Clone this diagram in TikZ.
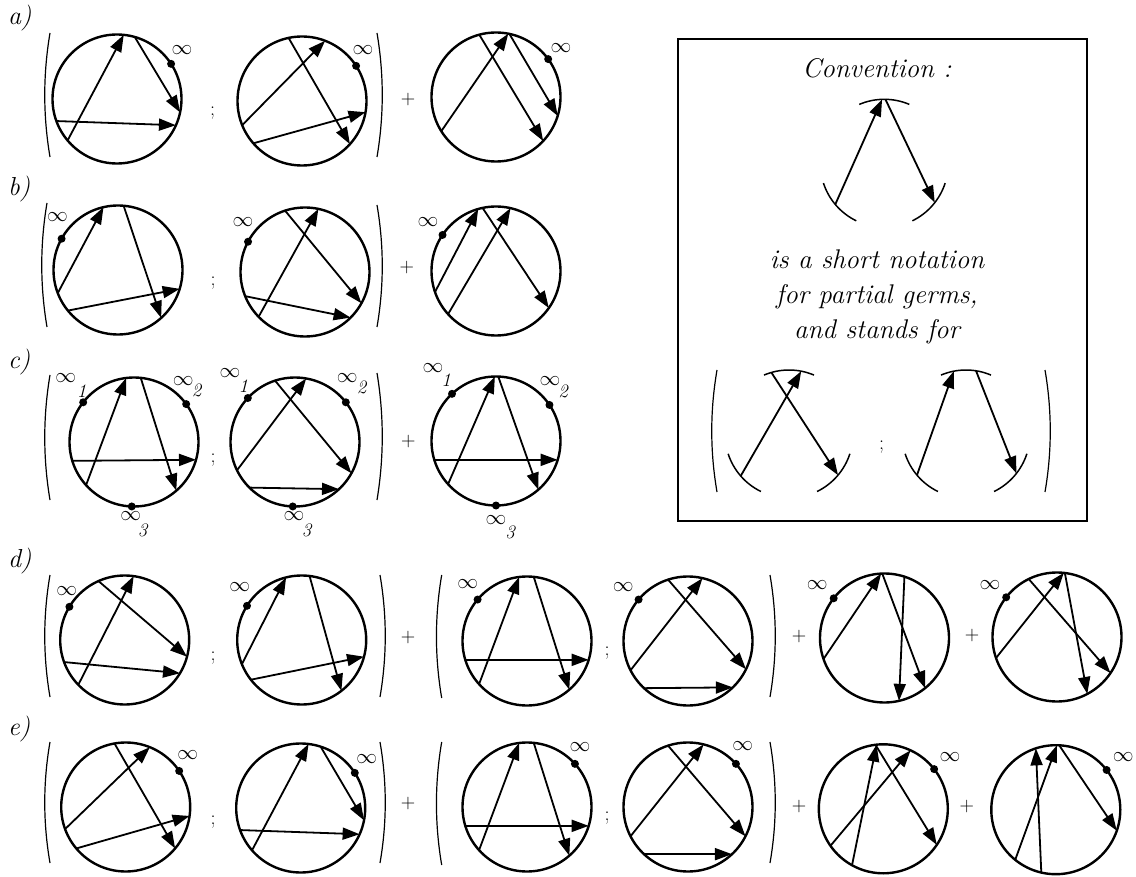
\documentclass[tikz,border=0pt]{standalone}
\usepackage{tikz}
\usetikzlibrary{arrows.meta,calc}

% thin big parentheses: x, top y, bottom y
\newcommand{\openpar}[3]{\draw[paren] (#1,#2) .. controls ({#1-7},{#2+(#3-#2)/3}) and ({#1-7},{#2+2*(#3-#2)/3}) .. (#1,#3);}
\newcommand{\closepar}[3]{\draw[paren] (#1,#2) .. controls ({#1+7},{#2+(#3-#2)/3}) and ({#1+7},{#2+2*(#3-#2)/3}) .. (#1,#3);}

\begin{document}
\begin{tikzpicture}[
  x=1pt, y=-1pt,
  germ/.style={circle, draw, line width=2.4pt, minimum size=129pt, inner sep=0pt, outer sep=0pt},
  ghost/.style={circle, minimum size=128pt, inner sep=0pt, outer sep=0pt},
  chd/.style={line width=1.8pt, -{Triangle[length=17pt,width=12pt]}},
  rim/.style={line width=1.5pt},
  paren/.style={line width=1.2pt},
  dotp/.style={circle, fill, inner sep=0pt, minimum size=8pt},
  inf/.style={font=\fontsize{21}{21}\selectfont, inner sep=0pt},
  sub/.style={font=\fontsize{19}{19}\selectfont\itshape, inner sep=0pt},
  op/.style={font=\fontsize{20}{20}\selectfont, inner sep=0pt},
  tag/.style={font=\fontsize{26}{26}\selectfont\itshape, anchor=west, inner sep=0pt},
  txt/.style={font=\fontsize{27}{35}\selectfont\itshape, align=center, inner sep=0pt}
]
\useasboundingbox (0,0) rectangle (1136,877);

% ---- row a
\node[tag] (ta) at (8,18) {a)};
\openpar{50}{33}{157}
\node[germ] (a1) at (117,99) {};
\foreach \s/\e in {220/84,74/348,200/336} \draw[chd] (a1.\s) -- (a1.\e);
\node[dotp] (a1i) at (a1.33) {};
\node[inf] (a1l) at (182,50) {$\infty$};
\node[op] (a1s) at (212.5,113) {;};
\node[germ] (a2) at (302,101) {};
\foreach \s/\e in {202/69,102/318,221/350} \draw[chd] (a2.\s) -- (a2.\e);
\node[dotp] (a2i) at (a2.33) {};
\node[inf] (a2l) at (363,50) {$\infty$};
\closepar{377}{33}{157}
\node[op] (ap) at (408,100) {+};
\node[germ] (a3) at (496,97) {};
\foreach \s/\e in {212/79,105/317,78/343} \draw[chd] (a3.\s) -- (a3.\e);
\node[dotp] (a3i) at (a3.36) {};
\node[inf] (a3l) at (561,48) {$\infty$};

% ---- row b
\node[tag] (tb) at (8,189) {b)};
\openpar{47}{203}{327}
\node[germ] (b1) at (118,270) {};
\foreach \s/\e in {201/103,85/312,219/343} \draw[chd] (b1.\s) -- (b1.\e);
\node[dotp] (b1i) at (b1.151) {};
\node[inf] (b1l) at (57.5,217.5) {$\infty$};
\node[op] (b1s) at (213,283) {;};
\node[germ] (b2) at (305,272) {};
\foreach \s/\e in {224/78,108/331,202/315} \draw[chd] (b2.\s) -- (b2.\e);
\node[dotp] (b2i) at (b2.152) {};
\node[inf] (b2l) at (243,221.7) {$\infty$};
\closepar{377}{205}{327}
\node[op] (bp) at (406.7,268) {+};
\node[germ] (b3) at (496,271) {};
\foreach \s/\e in {199/106,222/77,102/325} \draw[chd] (b3.\s) -- (b3.\e);
\node[dotp] (b3i) at (b3.146) {};
\node[inf] (b3l) at (428,222) {$\infty$};

% ---- row c
\node[tag] (tc) at (8,362) {c)};
\openpar{50}{375}{500}
\node[germ] (c1) at (134,442) {};
\foreach \s/\e in {222/97,84/311,197/344} \draw[chd] (c1.\s) -- (c1.\e);
\foreach \a/\k in {142/1,36/2,268/3} \node[dotp] (c1i\k) at (c1.\a) {};
\node[inf] (c1l1) at (65.7,378.3) {$\infty$};
\node[sub] (c1n1) at (81.7,390.7) {1};
\node[inf] (c1l2) at (183.3,380.7) {$\infty$};
\node[sub] (c1n2) at (196.7,390.7) {2};
\node[inf] (c1l3) at (130.7,515.7) {$\infty$};
\node[sub] (c1n3) at (142.7,530) {3};
\node[op] (c1s) at (213,460) {;};
\node[germ] (c2) at (295,442) {};
\foreach \s/\e in {206/80,108/331,225/313} \draw[chd] (c2.\s) -- (c2.\e);
\foreach \a/\k in {137/1,38/2,268/3} \node[dotp] (c2i\k) at (c2.\a) {};
\node[inf] (c2l1) at (230,373.3) {$\infty$};
\node[sub] (c2n1) at (243.3,385.7) {1};
\node[inf] (c2l2) at (347.3,378.3) {$\infty$};
\node[sub] (c2n2) at (361.7,387.3) {2};
\node[inf] (c2l3) at (294,515.7) {$\infty$};
\node[sub] (c2n3) at (306.7,530.7) {3};
\closepar{377}{373}{500}
\node[op] (cp) at (408.3,441.7) {+};
\node[germ] (c3) at (496,441) {};
\foreach \s/\e in {222/91,88/311,197/343} \draw[chd] (c3.\s) -- (c3.\e);
\foreach \a/\k in {133/1,34/2,270/3} \node[dotp] (c3i\k) at (c3.\a) {};
\node[inf] (c3l1) at (433,368.5) {$\infty$};
\node[sub] (c3n1) at (446,380.5) {1};
\node[inf] (c3l2) at (550,381) {$\infty$};
\node[sub] (c3n2) at (563,391.5) {2};
\node[inf] (c3l3) at (496,520) {$\infty$};
\node[sub] (c3n3) at (510,532) {3};

% ---- convention box
\draw[line width=2pt] (678,39) rectangle (1087,521);
\node[txt] (conv) at (877,68) {Convention :};
\node[ghost] (cv) at (884.3,163.3) {};
\node[txt] (note) at (877,297) {is a short notation\\for partial germs,\\and stands for};
\openpar{717}{370}{492}
\node[ghost] (cl) at (789,434) {};
\node[op] (cvs) at (881.7,446.7) {;};
\node[ghost] (cr) at (966,434) {};
\closepar{1045}{370}{492}
\foreach \g in {cv,cl,cr}
  \foreach \a/\b in {67/113,198/244,296/342}
    \draw[rim] (\g.\a) arc[start angle=\a, end angle=\b, radius=64pt];
\foreach \s/\e in {220/92,89/322} \draw[chd] (cv.\s) -- (cv.\e);
\foreach \s/\e in {221/79,106/320} \draw[chd] (cl.\s) -- (cl.\e);
\foreach \s/\e in {220/101,81/322} \draw[chd] (cr.\s) -- (cr.\e);

% ---- row d
\node[tag] (td) at (8,561) {d)};
\openpar{50}{575}{697}
\node[germ] (d1) at (124.7,640) {};
\foreach \s/\e in {114/345,224/82,200/329} \draw[chd] (d1.\s) -- (d1.\e);
\node[dotp] (d1i) at (d1.149) {};
\node[inf] (d1l) at (66.7,590.7) {$\infty$};
\node[op] (d1s) at (213,658) {;};
\node[germ] (d2) at (301.7,640) {};
\foreach \s/\e in {202/104,83/308,218/345} \draw[chd] (d2.\s) -- (d2.\e);
\node[dotp] (d2i) at (d2.148) {};
\node[inf] (d2l) at (239.7,587.3) {$\infty$};
\closepar{380}{575}{697}
\node[op] (dp1) at (408,638) {+};
\openpar{441.7}{575}{698}
\node[germ] (d3) at (527,641) {};
\foreach \s/\e in {222/97,84/311,197/343} \draw[chd] (d3.\s) -- (d3.\e);
\node[dotp] (d3i) at (d3.140) {};
\node[inf] (d3l) at (467.7,583.7) {$\infty$};
\node[op] (d2s) at (607,653) {;};
\node[germ] (d4) at (688,641) {};
\foreach \s/\e in {207/77,108/334,227/314} \draw[chd] (d4.\s) -- (d4.\e);
\node[dotp] (d4i) at (d4.140) {};
\node[inf] (d4l) at (623.3,587.3) {$\infty$};
\closepar{770}{575}{697}
\node[op] (dp2) at (799,637) {+};
\node[germ] (d5) at (884.5,638) {};
\foreach \s/\e in {199/93,92/309,72/283} \draw[chd] (d5.\s) -- (d5.\e);
\node[dotp] (d5i) at (d5.142) {};
\node[inf] (d5l) at (817.3,585) {$\infty$};
\node[op] (dp3) at (972,636) {+};
\node[germ] (d6) at (1057,637) {};
\foreach \s/\e in {199/84,116/326,83/298} \draw[chd] (d6.\s) -- (d6.\e);
\node[dotp] (d6i) at (d6.142) {};
\node[inf] (d6l) at (990,585) {$\infty$};

% ---- row e
\node[tag] (te) at (8,729) {e)};
\openpar{50}{742}{863}
\node[germ] (e1) at (125.7,807) {};
\foreach \s/\e in {200/68,100/320,220/352} \draw[chd] (e1.\s) -- (e1.\e);
\node[dotp] (e1i) at (e1.34) {};
\node[inf] (e1l) at (187.7,755) {$\infty$};
\node[op] (e1s) at (213,822) {;};
\node[germ] (e2) at (300.7,808) {};
\foreach \s/\e in {221/83,72/349,200/336} \draw[chd] (e2.\s) -- (e2.\e);
\node[dotp] (e2i) at (e2.33) {};
\node[inf] (e2l) at (366.7,759) {$\infty$};
\closepar{380}{742}{863}
\node[op] (ep1) at (408,804) {+};
\openpar{441.7}{742}{865}
\node[germ] (e3) at (527,807) {};
\foreach \s/\e in {222/97,84/311,197/343} \draw[chd] (e3.\s) -- (e3.\e);
\node[dotp] (e3i) at (e3.42) {};
\node[inf] (e3l) at (580,746.7) {$\infty$};
\node[op] (e2s) at (607,818) {;};
\node[germ] (e4) at (688,807) {};
\foreach \s/\e in {207/76,108/333,227/313} \draw[chd] (e4.\s) -- (e4.\e);
\node[dotp] (e4i) at (e4.42) {};
\node[inf] (e4l) at (742.7,745.7) {$\infty$};
\closepar{770}{742}{863}
\node[op] (ep2) at (799,807) {+};
\node[germ] (e5) at (883.3,808.8) {};
\foreach \s/\e in {241/96,215/65,97/326} \draw[chd] (e5.\s) -- (e5.\e);
\node[dotp] (e5i) at (e5.38) {};
\node[inf] (e5l) at (950,757.3) {$\infty$};
\node[op] (ep3) at (966.7,807) {+};
\node[germ] (e6) at (1055.8,809.7) {};
\foreach \s/\e in {257/108,231/89,87/341} \draw[chd] (e6.\s) -- (e6.\e);
\node[dotp] (e6i) at (e6.38) {};
\node[inf] (e6l) at (1123.3,757.3) {$\infty$};
\end{tikzpicture}
\end{document}
